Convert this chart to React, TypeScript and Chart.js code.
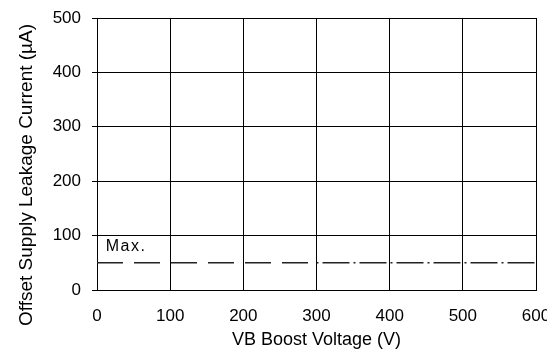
import React, { useEffect, useRef } from "react";
import { Chart, registerables } from "chart.js";

Chart.register(...registerables);

const voltage = [0, 300, 600];
const maxLeakage = [50, 50, 50];
const xTicks = [0, 100, 200, 300, 400, 500, 600];
const yTicks = [0, 100, 200, 300, 400, 500];
const noteText = ["Max."];
const noteX = [12];
const noteY = [72];
const yTitle = "Offset Supply Leakage Current (µA)";
const xTitle = "VB Boost Voltage (V)";

const FONT = "'Liberation Sans', Arial, Helvetica, sans-serif";

export default function App() {
  const ref = useRef<HTMLCanvasElement | null>(null);

  useEffect(() => {
    document.body.style.margin = "0";
    const canvas = ref.current;
    if (!canvas) return;

    const notePlugin = {
      id: "notes",
      afterDatasetsDraw(chart: any) {
        const { ctx, scales } = chart;
        ctx.save();
        ctx.font = `16px ${FONT}`;
        ctx.fillStyle = "#000";
        ctx.textAlign = "left";
        ctx.textBaseline = "alphabetic";
        try { (ctx as any).letterSpacing = "1.5px"; } catch (e) {}
        noteText.forEach((t, i) => {
          ctx.fillText(t, scales.x.getPixelForValue(noteX[i]), scales.y.getPixelForValue(noteY[i]));
        });
        ctx.restore();
        // y axis title (offset downwards like the reference)
        ctx.save();
        ctx.font = `19px ${FONT}`;
        ctx.fillStyle = "#000";
        ctx.textAlign = "center";
        ctx.textBaseline = "middle";
        ctx.translate(27, 175);
        ctx.rotate(-Math.PI / 2);
        ctx.fillText(yTitle, 0, 0);
        ctx.restore();
      },
    };

    const chart = new Chart(canvas, {
      type: "line",
      data: {
        datasets: [
          {
            label: "Max.",
            data: voltage.map((v, i) => ({ x: v, y: maxLeakage[i] })),
            borderColor: "#222",
            borderWidth: 1.5,
            pointRadius: 0,
            fill: false,
            segment: {
              borderDash: (ctx: any) => (ctx.p0DataIndex === 0 ? [26, 11] : [2, 4, 27, 4]),
            },
          },
        ],
      },
      options: {
        animation: false,
        responsive: false,
        devicePixelRatio: 1,
        layout: { padding: { top: 0, left: 0, right: 0, bottom: 1 } },
        plugins: { legend: { display: false }, tooltip: { enabled: false } },
        scales: {
          x: {
            type: "linear",
            min: xTicks[0],
            max: xTicks[xTicks.length - 1],
            afterBuildTicks: (s: any) => { s.ticks = xTicks.map((v) => ({ value: v })); },
            afterFit: (s: any) => { s.paddingRight = 11; s.paddingLeft = 0; s.height = 61; },
            grid: { color: "#000", lineWidth: 1, drawTicks: false },
            border: { color: "#000", width: 1 },
            ticks: { color: "#000", font: { family: FONT, size: 17 }, padding: 16, maxRotation: 0 },
            title: {
              display: true,
              text: xTitle,
              color: "#000",
              font: { family: FONT, size: 18 },
              padding: { top: 2, bottom: 0 },
            },
          },
          y: {
            type: "linear",
            min: yTicks[0],
            max: yTicks[yTicks.length - 1],
            afterBuildTicks: (s: any) => { s.ticks = yTicks.map((v) => ({ value: v })); },
            afterFit: (s: any) => { s.width = 97; s.paddingTop = 18; s.paddingBottom = 0; },
            grid: { color: "#000", lineWidth: 1, drawTicks: true, tickLength: 5 },
            border: { color: "#000", width: 1 },
            ticks: { color: "#000", font: { family: FONT, size: 17 }, padding: 11 },
            title: { display: false },
          },
        },
      },
      plugins: [notePlugin],
    });

    return () => chart.destroy();
  }, []);

  return <canvas ref={ref} width={547} height={352} style={{ display: "block" }} />;
}
